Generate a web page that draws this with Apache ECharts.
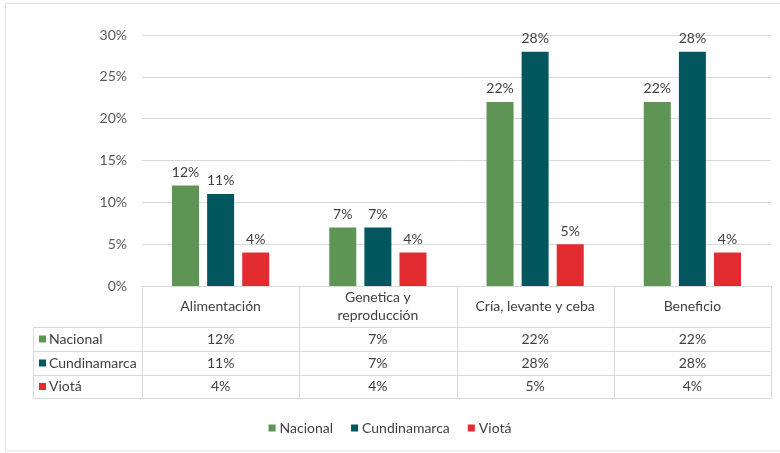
<!DOCTYPE html>
<html>
<head>
<meta charset="utf-8">
<script src="https://cdn.jsdelivr.net/npm/echarts@6/dist/echarts.min.js"></script>
<style>
html,body{margin:0;padding:0;background:#fff;}
#chart{width:780px;height:453px;}
</style>
</head>
<body>
<div id="chart"></div>
<script>
const categories = ['Alimentación', 'Genetica y\nreproducción', 'Cría, levante y ceba', 'Beneficio'];
const seriesNames = ['Nacional', 'Cundinamarca', 'Viotá'];
const nacional = [0.12, 0.07, 0.22, 0.22];
const cundinamarca = [0.11, 0.07, 0.28, 0.28];
const viota = [0.04, 0.04, 0.05, 0.04];
const yTicks = [0, 0.05, 0.10, 0.15, 0.20, 0.25, 0.30];

const colors = ['#5E9454', '#02575E', '#E32B32'];
const FONT = 'Lato, "Open Sans", sans-serif';
const TXT = '#404040';
const LINE = '#d9d9d9';

const gridLeft = 142, gridRight = 771, gridTop = 35, gridBottom = 286;
const rowY = [286, 327, 351, 375, 398];
const tableLeft = 33;

const chart = echarts.init(document.getElementById('chart'), null, {renderer: 'canvas'});
const allValues = [nacional, cundinamarca, viota];
const pct = v => Math.round(v * 100) + '%';

const graphics = [];
// outer frame
graphics.push({type: 'rect', shape: {x: 5.5, y: 3.5, width: 800, height: 447.5}, style: {fill: 'none', stroke: '#e3e3e3', lineWidth: 1}, silent: true});

const colW = (gridRight - gridLeft) / categories.length;
// horizontal lines of the table
for (let r = 1; r < rowY.length; r++) {
  graphics.push({type: 'line', shape: {x1: tableLeft, y1: rowY[r] + 0.5, x2: gridRight, y2: rowY[r] + 0.5}, style: {stroke: LINE, lineWidth: 1}, silent: true});
}
// vertical lines
for (let c = 0; c <= categories.length; c++) {
  const x = Math.round(gridLeft + c * colW) + 0.5;
  graphics.push({type: 'line', shape: {x1: x, y1: rowY[0], x2: x, y2: rowY[rowY.length - 1] + 0.5}, style: {stroke: LINE, lineWidth: 1}, silent: true});
}
graphics.push({type: 'line', shape: {x1: tableLeft + 0.5, y1: rowY[1], x2: tableLeft + 0.5, y2: rowY[rowY.length - 1] + 0.5}, style: {stroke: LINE, lineWidth: 1}, silent: true});

// row headers and values
for (let s = 0; s < seriesNames.length; s++) {
  const yc = (rowY[s + 1] + rowY[s + 2]) / 2;
  graphics.push({type: 'rect', shape: {x: 39, y: yc - 3.5, width: 7, height: 7}, style: {fill: colors[s]}, silent: true});
  graphics.push({type: 'text', x: 49, y: yc, style: {text: seriesNames[s], font: '14px ' + FONT, fill: TXT, textVerticalAlign: 'middle', textAlign: 'left'}, silent: true});
  for (let c = 0; c < categories.length; c++) {
    const xc = gridLeft + (c + 0.5) * colW;
    graphics.push({type: 'text', x: xc, y: yc, style: {text: pct(allValues[s][c]), font: '14px ' + FONT, fill: TXT, textVerticalAlign: 'middle', textAlign: 'center'}, silent: true});
  }
}

const series = seriesNames.map((name, i) => ({
  name: name,
  type: 'bar',
  data: allValues[i],
  barWidth: 27,
  barGap: '30%',
  itemStyle: {color: colors[i]},
  label: {show: true, position: 'top', distance: 6, formatter: p => pct(p.value), fontFamily: FONT, fontSize: 14, color: TXT}
}));

chart.setOption({
  animation: false,
  backgroundColor: '#fff',
  textStyle: {fontFamily: FONT},
  grid: {left: gridLeft, right: 780 - gridRight, top: gridTop, height: gridBottom - gridTop, containLabel: false},
  xAxis: {
    type: 'category',
    data: categories,
    axisLine: {show: true, lineStyle: {color: LINE}},
    axisTick: {show: false},
    axisLabel: {show: true, interval: 0, margin: 20, verticalAlign: 'middle', fontFamily: FONT, fontSize: 14, color: TXT, lineHeight: 18, align: 'center'}
  },
  yAxis: {
    type: 'value',
    min: yTicks[0],
    max: yTicks[yTicks.length - 1],
    interval: yTicks[1] - yTicks[0],
    axisLine: {show: false},
    axisTick: {show: false},
    splitLine: {lineStyle: {color: LINE}},
    axisLabel: {margin: 15, formatter: v => pct(v), fontFamily: FONT, fontSize: 14, color: '#595959'}
  },
  legend: {
    data: seriesNames,
    bottom: 13,
    left: 'center',
    icon: 'rect',
    itemWidth: 7,
    itemHeight: 7,
    itemGap: 18,
    textStyle: {fontFamily: FONT, fontSize: 14, color: TXT, padding: [0, 0, 0, -1]}
  },
  series: series,
  graphic: graphics
});
</script>
</body>
</html>
